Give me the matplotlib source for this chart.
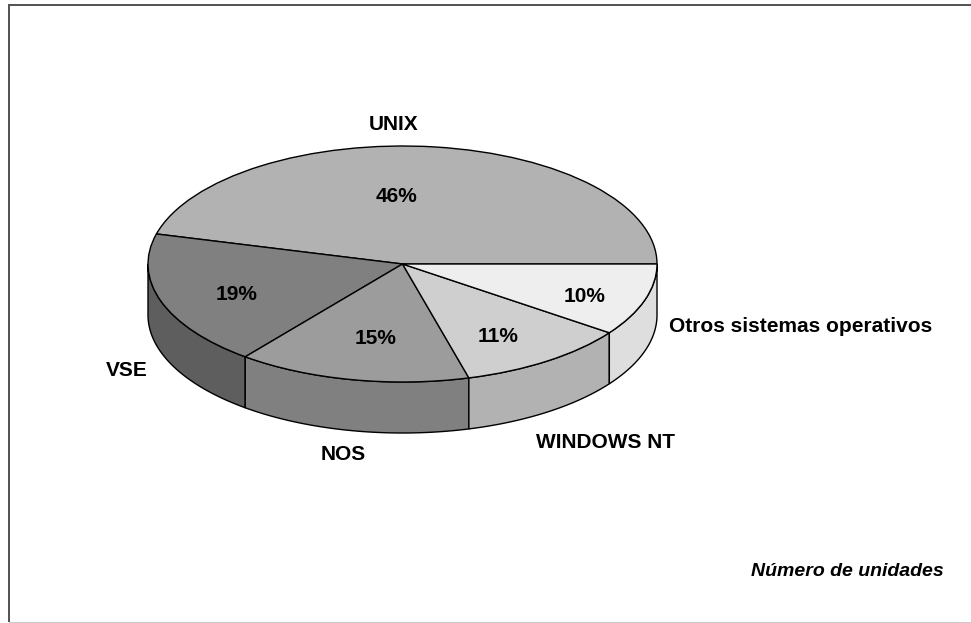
import numpy as np
import matplotlib
matplotlib.use("Agg")
import matplotlib.pyplot as plt
from matplotlib.lines import Line2D
from matplotlib.patches import Polygon

categories = ["UNIX", "VSE", "NOS", "WINDOWS NT", "Otros sistemas operativos"]
values = [45.9, 18.5, 14.8, 10.9, 9.9]
pct_labels = ["46%", "19%", "15%", "11%", "10%"]
top_colors = ["#b2b2b2", "#808080", "#9c9c9c", "#cfcfcf", "#eeeeee"]
wall_colors = ["#b2b2b2", "#5e5e5e", "#808080", "#b2b2b2", "#dedede"]
note = "Número de unidades"

W, H = 971, 623
CX, CY, RX, RY, DEPTH = 402.5, 264.0, 254.5, 118.0, 51.0
FONT = "Liberation Sans"
FS = 15.0

fig = plt.figure(figsize=(W / 100, H / 100), dpi=100, facecolor="white")
ax = fig.add_axes([0, 0, 1, 1])
ax.pie(values, colors=top_colors, startangle=0, counterclock=True, radius=1,
       wedgeprops=dict(edgecolor="black", linewidth=1.0), normalize=True,
       labels=None)
for w in ax.patches:
    w.set_zorder(3)
ax.set_aspect("auto")
ax.set_xlim(-CX / RX, (W - CX) / RX)
ax.set_ylim((CY - H) / RY, CY / RY)
ax.axis("off")

d = DEPTH / RY
edges = np.cumsum([0] + values) / sum(values) * 360
for a0, a1, col in zip(edges[:-1], edges[1:], wall_colors):
    lo, hi = max(a0, 180), min(a1, 360)
    if hi <= lo:
        continue
    t = np.radians(np.linspace(lo, hi, 120))
    top = np.c_[np.cos(t), np.sin(t)]
    bot = np.c_[np.cos(t[::-1]), np.sin(t[::-1]) - d]
    ax.add_patch(Polygon(np.r_[top, bot], closed=True, facecolor=col,
                         edgecolor="black", linewidth=1.0, zorder=2))


def px(x, y):
    return (x - CX) / RX, (CY - y) / RY


pct_pos = [(397, 196), (237, 294), (376, 339), (498, 336), (585, 296)]
for s, (x, y) in zip(pct_labels, pct_pos):
    ax.text(*px(x, y), s, ha="center", va="center", family=FONT,
            fontweight="bold", fontsize=FS, zorder=5)
cat_pos = [(394, 124), (127, 370), (343, 454), (605, 442), (801, 326)]
for s, (x, y) in zip(categories, cat_pos):
    ax.text(*px(x, y), s, ha="center", va="center", family=FONT,
            fontweight="bold", fontsize=FS, zorder=5)
ax.text(*px(944, 572), note, ha="right", va="center", family=FONT,
        fontweight="bold", style="italic", fontsize=14, zorder=5)


def frame(x0, y0, x1, y1, color, lw):
    fig.add_artist(Line2D([x0 / W, x1 / W], [1 - y0 / H, 1 - y1 / H],
                          transform=fig.transFigure, color=color, linewidth=lw,
                          solid_capstyle="butt"))


frame(9, 5, 971, 5, "#555555", 1.44)
frame(9, 4, 9, 622, "#555555", 1.44)
frame(9, 622.5, 971, 622.5, "#bbbbbb", 1.1)
fig.savefig("out.png", dpi=100, facecolor="white")
